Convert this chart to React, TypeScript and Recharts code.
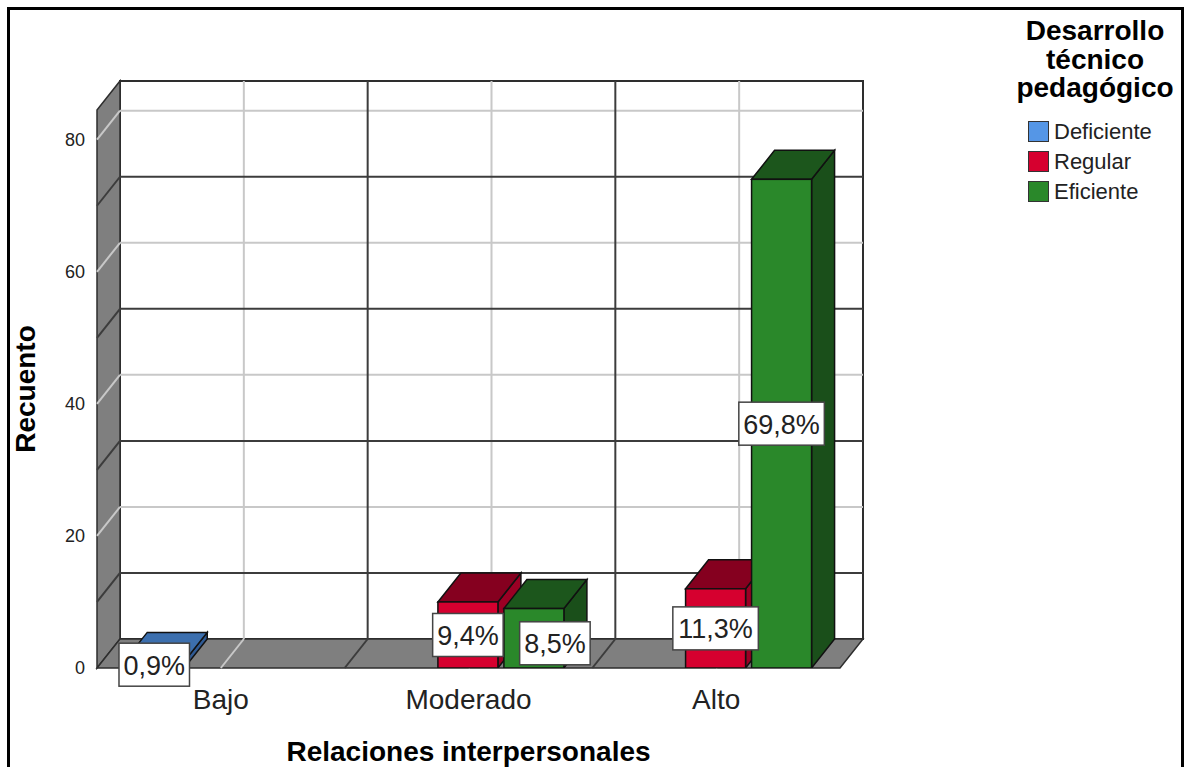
import React from 'react';
import { BarChart, Bar, XAxis, YAxis, CartesianGrid, Legend, LabelList } from 'recharts';

const FONT = '"Liberation Sans", Arial, sans-serif';

// data (counts, n = 106)
const categories = ['Bajo', 'Moderado', 'Alto'];
const seriesNames = ['Deficiente', 'Regular', 'Eficiente'];
const deficienteCounts = [1, null, null];
const regularCounts = [null, 10, 12];
const eficienteCounts = [null, 9, 74];
const deficientePct = ['0,9%', null, null];
const regularPct = [null, '9,4%', '11,3%'];
const eficientePct = [null, '8,5%', '69,8%'];

const yLabelTicks = [0, 20, 40, 60, 80];
const yMajorTicks = [20, 40, 60, 80];
const yMinorTicks = [10, 30, 50, 70];
const Y_MAX = 84.5;

const data = categories.map((name, i) => ({
  name,
  Deficiente: deficienteCounts[i],
  Regular: regularCounts[i],
  Eficiente: eficienteCounts[i],
  pDef: deficientePct[i],
  pReg: regularPct[i],
  pEfi: eficientePct[i],
}));

// 3d depth of the box
const DX = 23;
const DY = -29;
const WALL = '#7f7f7f';
const EDGE = '#2e2e2e';
const LIGHT = '#c8c8c8';
const DARK = '#3c3c3c';

const pts = (list: number[][]) => list.map((p) => p.join(',')).join(' ');

const walls = (p: any) => {
  const left = p.x ?? p.offset?.left;
  const w = p.width ?? p.offset?.width;
  const top = p.y ?? p.offset?.top;
  const h = p.height ?? p.offset?.height;
  const right = left + w;
  const bottom = top + h;
  return (
    <g>
      <rect x={left + DX} y={top + DY} width={w} height={h} fill="#fff" stroke={EDGE} strokeWidth={2} />
      <polygon
        points={pts([[left, top], [left + DX, top + DY], [left + DX, bottom + DY], [left, bottom]])}
        fill={WALL}
        stroke={EDGE}
        strokeWidth={1.5}
      />
      <polygon
        points={pts([[left, bottom], [left + DX, bottom + DY], [right + DX, bottom + DY], [right, bottom]])}
        fill={WALL}
        stroke={EDGE}
        strokeWidth={1.5}
      />
    </g>
  );
};

const hLines = (color: string) => (p: any) => (
  <g>
    <line x1={p.x1 + DX} y1={p.y1 + DY} x2={p.x2 + DX} y2={p.y2 + DY} stroke={color} strokeWidth={2} />
    <line x1={p.x1} y1={p.y1} x2={p.x1 + DX} y2={p.y1 + DY} stroke={color} strokeWidth={2} />
  </g>
);

const depthLine = (x: number, y1: number, y2: number, color: string) => (
  <g>
    <line x1={x + DX} y1={y1 + DY} x2={x + DX} y2={y2 + DY} stroke={color} strokeWidth={2} />
    <line x1={x} y1={y2} x2={x + DX} y2={y2 + DY} stroke={color} strokeWidth={2} />
  </g>
);

// light lines through the category centres
const centreLines = (p: any) => depthLine(p.x1, p.y1, p.y2, LIGHT);

// dark lines on the boundaries between categories
const boundaryLines = (p: any) => {
  if (!p.index) return <g />;
  const w = p.width ?? p.offset?.width;
  const half = w / categories.length / 2;
  return depthLine(p.x1 - half, p.y1, p.y2, DARK);
};

const box3d = (front: string, topC: string, side: string) => (p: any) => {
  const { x, y, width, height } = p;
  if (!width || !height || height <= 0) return <g />;
  const r = x + width;
  const b = y + height;
  return (
    <g>
      <polygon points={pts([[r, y], [r + DX, y + DY], [r + DX, b + DY], [r, b]])} fill={side} stroke="#111" strokeWidth={1.5} />
      <polygon points={pts([[x, y], [x + DX, y + DY], [r + DX, y + DY], [r, y]])} fill={topC} stroke="#111" strokeWidth={1.5} />
      <rect x={x} y={y} width={width} height={height} fill={front} stroke="#111" strokeWidth={1.5} />
    </g>
  );
};

const charW = (c: string) => (c === ',' ? 7.5 : c === '%' ? 24 : 15);

const pctLabel = (nudgeX: number, nudgeY: number) => (p: any) => {
  const vb = p.viewBox ?? p;
  const { x, y, width, height } = vb;
  const value = p.value;
  if (value == null || value === '') return null;
  const text = String(value);
  const w = text.split('').reduce((s, c) => s + charW(c), 0) + 9;
  const h = 43;
  const short = height < 90;
  const cx = x + width / 2 + (short ? nudgeX : 0);
  const cy = y + height / 2 + (short ? nudgeY : 0);
  return (
    <g>
      <rect x={cx - w / 2} y={cy - h / 2} width={w} height={h} fill="#fff" stroke="#444" strokeWidth={1.5} />
      <text x={cx} y={cy + 10} textAnchor="middle" fontSize={27} fill="#222" fontFamily={FONT}>
        {text}
      </text>
    </g>
  );
};

const CategoryTick = (p: any) => (
  <text x={p.x} y={p.y + 41} textAnchor="middle" fontSize={28} fill="#222" fontFamily={FONT}>
    {p.payload.value}
  </text>
);

const renderLegend = (props: any) => {
  const items = [...(props.payload || [])].sort(
    (a: any, b: any) => seriesNames.indexOf(a.value) - seriesNames.indexOf(b.value)
  );
  return (
    <div style={{ fontFamily: FONT, width: 190, color: '#000' }}>
      <div style={{ fontWeight: 'bold', fontSize: 28, lineHeight: '28.5px', textAlign: 'center' }}>
        Desarrollo
        <br />
        técnico
        <br />
        pedagógico
      </div>
      <div style={{ marginTop: 14 }}>
        {items.map((e: any) => (
          <div key={e.value} style={{ display: 'flex', alignItems: 'center', height: 30, paddingLeft: 28 }}>
            <span
              style={{
                display: 'inline-block',
                width: 19,
                height: 19,
                background: e.color,
                border: '1.5px solid #333',
              }}
            />
            <span style={{ fontSize: 22, marginLeft: 5, color: '#222' }}>{e.value}</span>
          </div>
        ))}
      </div>
    </div>
  );
};

export default function App() {
  return (
    <div style={{ position: 'fixed', left: 0, top: 0, width: 1184, height: 767, overflow: 'hidden', background: '#fff' }}>
      <div
        style={{
          position: 'absolute',
          left: 7,
          top: 7,
          width: 1171,
          height: 800,
          border: '3px solid #000',
        }}
      />
      <div style={{ position: 'absolute', left: 0, top: 0 }}>
        <BarChart
          width={1184}
          height={767}
          data={data}
          margin={{ top: 110, right: 344, bottom: 0, left: 0 }}
          barGap={6}
          barCategoryGap="11%"
        >
          <XAxis
            xAxisId="x"
            dataKey="name"
            height={99}
            axisLine={false}
            tickLine={false}
            tickSize={0}
            tickMargin={0}
            tick={CategoryTick}
            label={(p: any) => {
              const vb = p.viewBox;
              return (
                <text
                  x={vb.x + vb.width / 2}
                  y={vb.y + 93}
                  textAnchor="middle"
                  fontSize={28}
                  fontWeight="bold"
                  fill="#000"
                  fontFamily={FONT}
                >
                  Relaciones interpersonales
                </text>
              );
            }}
          />
          <YAxis
            yAxisId="y"
            width={97}
            domain={[0, Y_MAX]}
            ticks={yLabelTicks}
            allowDataOverflow
            axisLine={false}
            tickLine={false}
            tickSize={0}
            tickMargin={12}
            tick={{ fontSize: 18, fill: '#222', fontFamily: FONT }}
            label={(p: any) => {
              const vb = p.viewBox;
              const cx = 25;
              const cy = vb.y + vb.height / 2;
              return (
                <text
                  x={cx}
                  y={cy}
                  transform={`rotate(-90 ${cx} ${cy})`}
                  textAnchor="middle"
                  dominantBaseline="central"
                  fontSize={28}
                  fontWeight="bold"
                  fill="#000"
                  fontFamily={FONT}
                >
                  Recuento
                </text>
              );
            }}
          />
          <YAxis yAxisId="yBase" hide width={0} domain={[0, Y_MAX]} ticks={[0]} allowDataOverflow />
          <YAxis yAxisId="yMaj" hide width={0} domain={[0, Y_MAX]} ticks={yMajorTicks} allowDataOverflow />
          <YAxis yAxisId="yMin" hide width={0} domain={[0, Y_MAX]} ticks={yMinorTicks} allowDataOverflow />

          <CartesianGrid xAxisId="x" yAxisId="yBase" syncWithTicks vertical={false} horizontal={walls} />
          <CartesianGrid xAxisId="x" yAxisId="yMaj" syncWithTicks horizontal={hLines(LIGHT)} vertical={centreLines} />
          <CartesianGrid xAxisId="x" yAxisId="yMin" syncWithTicks horizontal={hLines(DARK)} vertical={boundaryLines} />

          <Legend
            layout="vertical"
            align="center"
            verticalAlign="middle"
            content={renderLegend}
            wrapperStyle={{ left: 1000, top: 17, width: 190 }}
          />

          <Bar
            xAxisId="x"
            yAxisId="y"
            dataKey="Deficiente"
            name="Deficiente"
            fill="#5596e6"
            shape={box3d('#5596e6', '#3c6fae', '#2f5a94')}
            isAnimationActive={false}
          >
            <LabelList dataKey="pDef" content={pctLabel(0, 0)} />
          </Bar>
          <Bar
            xAxisId="x"
            yAxisId="y"
            dataKey="Regular"
            name="Regular"
            fill="#d6002f"
            shape={box3d('#d6002f', '#85001f', '#9a0024')}
            isAnimationActive={false}
          >
            <LabelList dataKey="pReg" content={pctLabel(0, 0)} />
          </Bar>
          <Bar
            xAxisId="x"
            yAxisId="y"
            dataKey="Eficiente"
            name="Eficiente"
            fill="#2a882a"
            shape={box3d('#2a882a', '#1c561c', '#1a4f1a')}
            isAnimationActive={false}
          >
            <LabelList dataKey="pEfi" content={pctLabel(21, 5)} />
          </Bar>
        </BarChart>
      </div>
    </div>
  );
}
